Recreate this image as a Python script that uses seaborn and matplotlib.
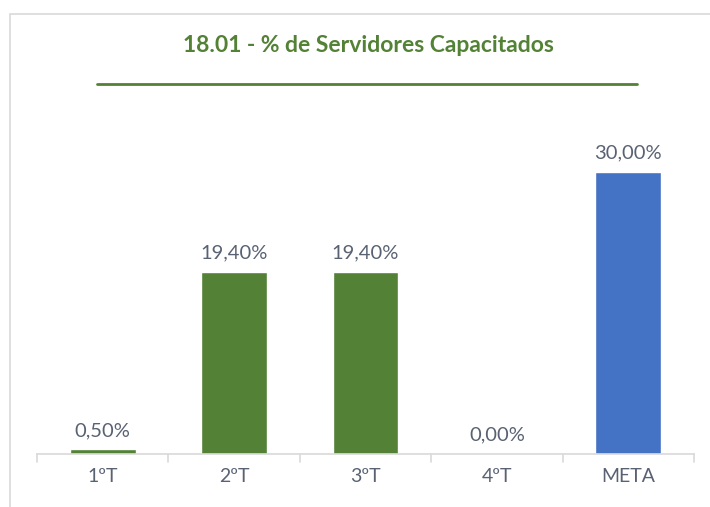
import matplotlib
matplotlib.use("Agg")
import matplotlib.pyplot as plt
import seaborn as sns
import pandas as pd
from matplotlib.lines import Line2D
from matplotlib.patches import Rectangle

categorias = ["1ºT", "2ºT", "3ºT", "4ºT", "META"]
valores = [0.50, 19.40, 19.40, 0.00, 30.00]
cores = ["#538135", "#538135", "#538135", "#538135", "#4472C4"]
titulo = "18.01 - % de Servidores Capacitados"

df = pd.DataFrame({"cat": categorias, "valor": valores})

sns.set_theme(style="white")
plt.rcParams["font.family"] = ["Lato", "DejaVu Sans"]

fig = plt.figure(figsize=(7.10, 5.07), dpi=100)
ax = fig.add_axes([37 / 710, 53 / 507, 657 / 710, 329 / 507])

sns.barplot(data=df, x="cat", y="valor", hue="cat", palette=cores,
            width=0.5, legend=False, ax=ax, saturation=1)

ax.set_ylim(0, 35)
ax.set_xlim(-0.5, 4.5)
ax.set_xlabel("")
ax.set_ylabel("")
ax.set_yticks([])
for s in ["top", "right", "left"]:
    ax.spines[s].set_visible(False)
ax.spines["bottom"].set_color("#D9D9D9")
ax.spines["bottom"].set_linewidth(1.2)

# marcas entre categorias
ax.set_xticks([i for i in range(5)])
ax.set_xticklabels(categorias, fontsize=14, color="#596273")
ax.tick_params(axis="x", length=0, pad=10)
for b in [-0.5, 0.5, 1.5, 2.5, 3.5, 4.5]:
    ax.plot([b, b], [0, -0.8], color="#D9D9D9", lw=1.2, clip_on=False)

for i, v in enumerate(valores):
    ax.text(i, v + 1.1, f"{v:.2f}".replace(".", ",") + "%", ha="center",
            va="bottom", fontsize=14.5, color="#596273")

fig.text(368 / 710, 1 - 45 / 507, titulo, ha="center", va="center",
         fontsize=16.5, fontweight="bold", color="#538135")
fig.add_artist(Line2D([97 / 710, 637 / 710], [1 - 84 / 507, 1 - 84 / 507],
                      color="#538135", lw=2))
fig.add_artist(Rectangle((10 / 710, -0.05), 1.2, 1 - 14 / 507 + 0.05,
                         fill=False, edgecolor="#D9D9D9", lw=1.2,
                         transform=fig.transFigure))

fig.savefig("out.png", dpi=100)
